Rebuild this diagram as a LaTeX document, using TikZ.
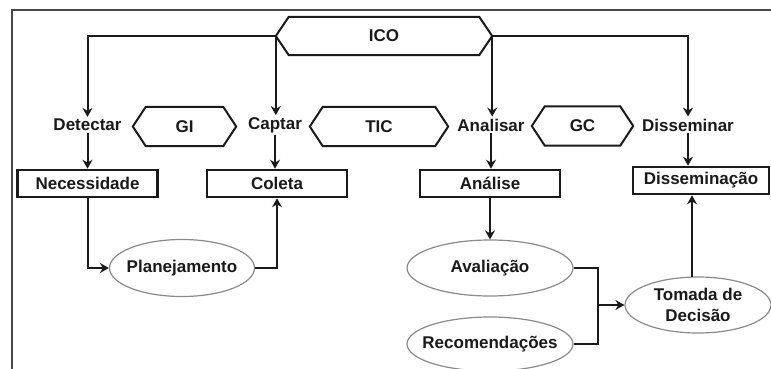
\documentclass[tikz,border=0pt]{standalone}
\usepackage{fontspec}
\setmainfont{Liberation Sans}
\usetikzlibrary{arrows.meta,calc,shapes.geometric}
\definecolor{ink}{HTML}{1A1A1A}
\definecolor{ellgray}{HTML}{8A8A8A}
\newcommand{\drawhex}[2]{\draw[hexline] (#1.west) -- ($(#1.north west)+(#2,0)$) -- ($(#1.north east)+(-#2,0)$) -- (#1.east) -- ($(#1.south east)+(-#2,0)$) -- ($(#1.south west)+(#2,0)$) -- cycle;}
\begin{document}
\begin{tikzpicture}[x=1pt,y=-1pt,
  every node/.style={font=\fontsize{17}{20}\selectfont\bfseries, text=ink},
  hexnode/.style={draw=none, inner sep=0pt, minimum height=38pt},
  hexline/.style={draw=ink, line width=2pt, line join=miter},
  label/.style={inner sep=2pt},
  boxnode/.style={draw=ink, line width=2.6pt, minimum width=140pt, minimum height=27pt, inner sep=0pt},
  ellnode/.style={ellipse, draw=ellgray, line width=1.2pt, inner xsep=-25pt, inner ysep=-6pt},
  conn/.style={draw=ink, line width=2pt},
  arr/.style={conn, -{Stealth[length=9pt,width=10pt,inset=3pt]}},
  frame/.style={draw=ink!80, line width=1.5pt}]
\useasboundingbox[fill=white] (0,0) rectangle (771,369);
% frame
\coordinate (fbl) at (12,369);
\coordinate (ftl) at (12,10);
\coordinate (ftr) at (771,10);
\draw[frame] (fbl) -- (ftl) -- (ftr);
% hexagons
\node[hexnode, minimum width=216pt] (ico) at (384,36) {ICO};
\node[hexnode, minimum width=103pt, minimum height=39pt] (gi) at (184.5,126.5) {GI};
\node[hexnode, minimum width=138pt, minimum height=39pt] (tic) at (379,126.5) {TIC};
\node[hexnode, minimum width=101pt, minimum height=39pt] (gc) at (582.5,126) {GC};
\drawhex{ico}{13}
\drawhex{gi}{13}
\drawhex{tic}{13}
\drawhex{gc}{13}
% stage labels
\node[label] (detectar) at (87.5,125) {Detectar};
\node[label] (captar) at (275,125) {Captar};
\node[label] (analisar) at (491,125) {Analisar};
\node[label] (dissem) at (688,125) {Disseminar};
% boxes
\node[boxnode] (necess) at (87.5,183.5) {Necessidade};
\node[boxnode] (coleta) at (277,183.5) {Coleta};
\node[boxnode] (analise) at (490,183.5) {Análise};
\node[boxnode, minimum width=136pt] (dissbox) at (701,180.5) {Disseminação};
% ellipses
\node[ellnode, minimum width=145pt, minimum height=57pt] (plan) at (182,268) {Planejamento};
\node[ellnode, minimum width=166pt, minimum height=56pt] (aval) at (490,268) {Avaliação};
\node[ellnode, minimum width=166pt, minimum height=54pt] (recom) at (490,344) {Recomendações};
\node[ellnode, minimum width=146pt, minimum height=56pt, align=center, font=\fontsize{17}{21}\selectfont\bfseries] (tomada) at (698,305) {Tomada de\\Decisão};
% connectors from ICO
\draw[arr] (ico.west) -| (detectar.north);
\draw[arr] (ico.west) -- (ico.west |- captar.north);
\draw[arr] (ico.east) -- (ico.east |- analisar.north);
\draw[arr] (ico.east) -| (dissem.north);
% stage to box
\draw[arr] (detectar.south) -- (detectar.south |- necess.north);
\draw[arr] (captar.south) -- (captar.south |- coleta.north);
\draw[arr] (analisar.south) -- (analisar.south |- analise.north);
\draw[arr] (dissem.south) -- (dissem.south |- dissbox.north);
% lower flow
\draw[arr] (necess.south) |- (plan.west);
\draw[arr] (plan.east) -| (coleta.south);
\draw[arr] (analise.south) -- (aval.north);
\coordinate (j) at (598,305);
\draw[conn] (aval.east) -| (j) |- (recom.east);
\draw[arr] (j) -- (tomada.west);
\coordinate (tt) at ($(tomada.north)+(-6,0.3)$);
\draw[arr] (tt) -- (tt |- dissbox.south);
\end{tikzpicture}
\end{document}
